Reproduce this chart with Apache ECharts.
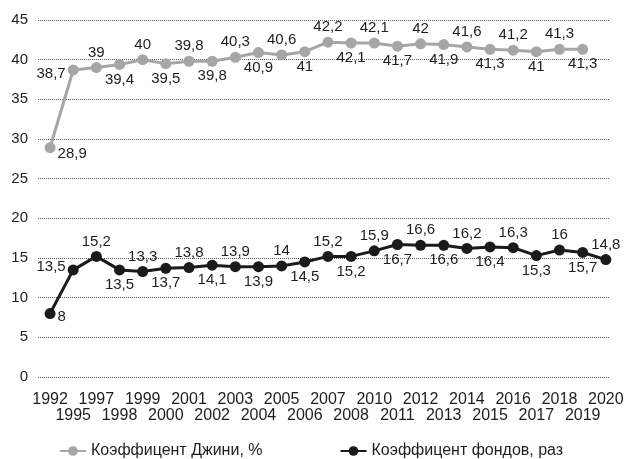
<!DOCTYPE html>
<html>
<head>
<meta charset="utf-8">
<script src="https://cdn.jsdelivr.net/npm/echarts@6/dist/echarts.min.js"></script>
<style>
html,body{margin:0;padding:0;background:#fff;}
#chart{width:627px;height:459px;}
</style>
</head>
<body>
<div id="chart"></div>
<script>
const years = ['1992','1995','1997','1998','1999','2000','2001','2002','2003','2004','2005','2006','2007','2008','2010','2011','2012','2013','2014','2015','2016','2017','2018','2019','2020'];
const giniName = 'Коэффицент Джини, %';
const fundsName = 'Коэффицент фондов, раз';
const gini = [28.9,38.7,39,39.4,40,39.5,39.8,39.8,40.3,40.9,40.6,41,42.2,42.1,42.1,41.7,42,41.9,41.6,41.3,41.2,41,41.3,41.3,null];
const funds = [8,13.5,15.2,13.5,13.3,13.7,13.8,14.1,13.9,13.9,14,14.5,15.2,15.2,15.9,16.7,16.6,16.6,16.2,16.4,16.3,15.3,16,15.7,14.8];
const yTicks = {min:0, max:45, interval:5};

const FONT = 'Liberation Sans, Arial, sans-serif';
const TXT = '#1e1e1e';

function withLabels(arr, firstOffset, secondOffset){
  const out = [];
  arr.forEach(function(v,i){
    if(v===null || v===undefined) return;
    let pos, offset = [0,0];
    if(i===0){ pos='right'; offset = firstOffset; }
    else if(i===1){ pos='left'; offset = secondOffset; }
    else pos = (i%2===0)?'top':'bottom';
    out.push({value:[i, v], label:{position:pos, offset:offset}});
  });
  return out;
}
const fmt = function(p){ return String(p.value[1]).replace('.',','); };
const evenIdx = years.map(function(_, i){ return i; }).filter(function(i){ return i%2===0; });
const oddIdx = years.map(function(_, i){ return i; }).filter(function(i){ return i%2===1; });
const xMin = -0.52, xMax = years.length-1+0.18;

function xAxisDef(vals, margin){
  return {
    type:'value', min:xMin, max:xMax, position:'bottom',
    axisLine:{show:false}, axisTick:{show:false}, splitLine:{show:false},
    axisLabel:{
      customValues:vals, showMinLabel:true, showMaxLabel:true, hideOverlap:false,
      margin:margin, fontSize:16, color:TXT, fontFamily:FONT,
      formatter:function(v){ return years[Math.round(v)]; }
    }
  };
}

const chart = echarts.init(document.getElementById('chart'), null, {renderer:'canvas'});
chart.setOption({
  animation:false,
  backgroundColor:'#fff',
  textStyle:{fontFamily:FONT},
  grid:{left:38, right:17, top:20, bottom:82, containLabel:false},
  legend:{
    top:443, left:59,
    itemGap:77, itemWidth:26, itemHeight:12, padding:[0,0,0,0],
    textStyle:{fontFamily:FONT, fontSize:16, color:TXT},
    data:[giniName, fundsName]
  },
  xAxis:[xAxisDef(evenIdx, 15), xAxisDef(oddIdx, 31)],
  yAxis:{
    type:'value', min:yTicks.min, max:yTicks.max, interval:yTicks.interval,
    axisLine:{show:false}, axisTick:{show:false},
    axisLabel:{fontSize:15, color:TXT, fontFamily:FONT, margin:10},
    splitLine:{lineStyle:{color:'#555', type:'dotted', width:1}}
  },
  series:[
    {
      name:giniName, type:'line', xAxisIndex:0, data:withLabels(gini,[0,6],[0,4]),
      symbol:'circle', symbolSize:11,
      itemStyle:{color:'#a6a6a6'}, lineStyle:{color:'#a6a6a6', width:3},
      label:{show:true, distance:2, fontSize:15, color:TXT, fontFamily:FONT, formatter:fmt}
    },
    {
      name:fundsName, type:'line', xAxisIndex:0, data:withLabels(funds,[0,3],[0,-3]),
      symbol:'circle', symbolSize:11,
      itemStyle:{color:'#1a1a1a'}, lineStyle:{color:'#1a1a1a', width:3},
      label:{show:true, distance:2, fontSize:15, color:TXT, fontFamily:FONT, formatter:fmt}
    }
  ]
});
</script>
</body>
</html>
